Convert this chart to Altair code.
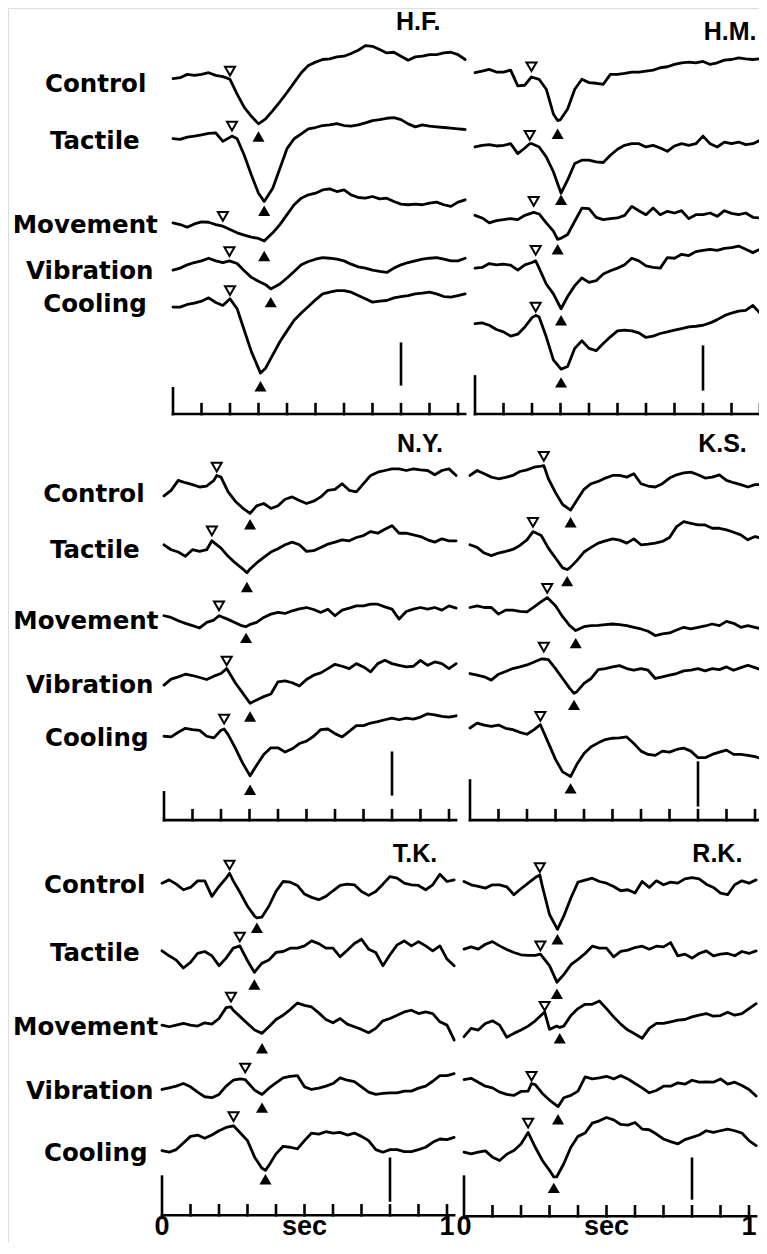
import altair as alt
import pandas as pd

# ---------------- data (amplitudes; 1 unit = 1/3 px) ----------------
T = [round(i * 0.025, 3) for i in range(42)]  # sample times (s)
TRACES = ["Control", "Tactile", "Movement", "Vibration", "Cooling"]

HF_control = [2,5,15,12,15,20,12,8,-5,-45,-85,-112,-135,-120,-95,-68,-40,-10,20,42,52,60,62,68,70,78,88,102,100,90,80,82,70,58,68,70,75,75,80,82,75,60]
HF_tactile = [0,-2,5,8,12,16,18,-8,5,0,-50,-110,-165,-185,-150,-90,-30,0,15,30,34,40,42,46,40,38,42,48,55,58,62,64,58,45,36,42,38,36,34,32,30,28]
HF_movement = [0,-5,-13,-3,3,2,-5,-12,-20,-30,-37,-43,-47,-53,-30,-5,25,55,75,85,90,100,103,95,100,85,77,75,80,73,75,65,57,55,57,55,60,63,55,50,63,70]
HF_vibration = [-3,3,13,20,25,33,25,20,25,17,-5,-25,-37,-47,-57,-45,-27,-7,13,23,30,35,33,30,25,15,7,3,-3,-7,-10,3,13,20,25,30,33,35,30,25,25,33]
HF_cooling = [0,0,8,12,18,28,14,5,25,-5,-70,-135,-195,-185,-145,-105,-72,-40,-18,2,22,40,45,50,50,45,35,25,15,18,20,28,32,35,40,42,45,40,32,30,35,40]

HM_control = [0,5,10,2,2,8,-40,-38,-18,-20,-50,-125,-142,-110,-50,-20,-30,-32,-35,-5,-5,-2,2,2,5,8,15,18,25,30,32,30,34,25,30,38,40,45,42,40,42,35]
HM_tactile = [-5,0,2,-2,0,5,-25,-8,5,-5,-35,-80,-140,-105,-55,-45,-45,-50,-52,-30,-12,0,5,5,-5,0,-8,-18,-2,5,0,5,28,5,-5,10,5,10,2,5,15,25]
HM_movement = [3,-5,-20,-13,-10,-7,-10,3,10,7,-20,-45,-67,-55,-15,25,23,-3,-10,-7,-5,3,30,17,5,25,5,15,10,17,-7,5,5,10,0,17,9,5,10,-3,-5,7]
HM_vibration = [-2,0,12,8,10,7,-8,8,15,-2,-50,-80,-120,-88,-55,-32,-45,-40,-20,-10,-2,8,28,20,5,0,-2,30,28,40,36,48,52,55,52,58,60,65,55,45,55,65]
HM_cooling = [0,2,-5,-18,-25,-38,-32,-10,18,20,-40,-110,-138,-130,-75,-52,-75,-82,-60,-40,-22,-20,-22,-28,-42,-38,-30,-25,-20,-15,-10,-8,-5,2,12,24,32,38,40,55,32,18]

NY_control = [-2,15,45,38,32,25,28,45,55,10,-18,-38,-55,-32,-25,-40,-32,-12,-5,-16,-25,-18,-5,15,18,35,15,10,35,60,70,75,80,80,75,80,77,75,62,75,80,60]
NY_tactile = [0,-15,-22,-35,-15,-20,-15,8,-10,-35,-55,-72,-75,-55,-38,-22,-12,0,8,0,-20,-18,-8,2,8,15,12,22,28,40,35,47,58,35,35,30,25,15,8,18,12,12]
NY_movement = [0,-5,-15,-23,-30,-37,-20,-13,0,-11,-21,-31,-27,-20,-5,5,10,7,15,21,25,19,10,20,0,17,23,30,30,35,35,27,20,-10,13,20,25,20,25,17,30,23]
NY_vibration = [-15,3,10,18,14,8,2,12,20,32,-8,-38,-62,-60,-50,-42,-5,-2,-8,-18,2,15,22,35,48,42,35,50,40,25,50,60,50,45,40,42,60,45,55,50,35,50]
NY_cooling = [0,-2,12,24,20,18,0,-5,18,5,-35,-80,-115,-88,-55,-35,-35,-48,-38,-22,-15,0,20,22,8,-2,15,32,32,40,44,50,55,50,55,52,58,68,65,60,58,62]

KS_control = [0,15,5,-5,-10,-6,0,12,17,25,28,-10,-52,-88,-105,-75,-42,-25,-18,-8,0,0,-5,5,-25,-32,-35,-25,-8,2,8,10,2,-8,-5,2,-15,-22,-28,-35,-28,-28]
KS_tactile = [0,-8,-25,-33,-25,-20,-14,-2,15,40,28,-10,-40,-70,-70,-48,-22,-8,5,12,18,14,5,18,0,2,5,10,22,55,70,65,60,60,50,50,45,38,30,15,25,20]
KS_movement = [0,5,0,0,-20,-8,-8,-12,-13,2,18,28,5,-28,-55,-68,-58,-55,-54,-52,-50,-52,-55,-60,-65,-72,-85,-80,-77,-68,-60,-65,-60,-56,-50,-55,-42,-48,-60,-55,-60,-65]
KS_vibration = [0,-5,-10,-20,-2,6,15,20,26,35,44,42,15,-15,-45,-55,-30,-15,12,15,20,24,15,10,15,10,-15,-10,-5,0,8,10,15,8,15,12,20,10,18,25,18,10]
KS_cooling = [0,15,9,5,9,-1,-5,-13,-19,-5,7,-45,-95,-133,-145,-110,-77,-57,-45,-35,-31,-30,-27,-47,-70,-80,-83,-70,-73,-65,-61,-70,-90,-90,-80,-73,-67,-80,-80,-83,-87,-93]

TK_control = [0,10,-3,-20,-13,7,7,-40,-10,15,7,-30,-70,-100,-103,-70,-25,5,3,-7,-33,-43,-50,-40,-23,-7,-3,-5,-25,-37,-25,-3,20,15,0,-5,-7,-20,-5,27,5,10]
TK_tactile = [0,-15,-28,-52,-35,-8,-2,-15,-45,-22,8,12,-30,-65,-38,-28,-5,-2,8,8,15,30,22,8,8,-18,2,22,35,5,-5,-45,-12,18,30,15,28,15,0,15,-25,-45]
TK_movement = [0,-5,0,5,0,-3,7,3,20,53,45,25,5,-15,-23,-5,17,30,47,67,60,55,37,17,7,20,3,-5,-13,-23,-10,13,20,30,40,45,35,40,35,10,0,-45]
TK_vibration = [0,5,10,18,8,-8,-22,-25,-15,10,28,32,22,-2,-15,4,20,35,40,42,8,0,4,10,18,35,28,24,8,-8,-15,-12,-10,-10,-5,-5,4,10,25,42,42,48]
TK_cooling = [0,-5,3,23,43,47,37,47,60,70,75,53,30,-20,-53,-45,-10,13,10,5,30,53,50,57,53,55,47,53,43,30,3,-5,3,3,-3,-3,3,10,25,35,33,40]

RK_control = [0,-10,-15,-20,-10,-10,-16,-40,-22,-5,12,-15,-100,-145,-105,-50,-2,4,10,0,-5,-15,-28,-25,-35,0,-18,2,-10,-2,-5,8,12,8,-8,-18,-35,-40,-10,2,-5,5]
RK_tactile = [0,7,0,15,23,10,-1,-10,-17,-19,-19,-20,-50,-90,-77,-47,-31,-13,9,3,3,-23,-7,-3,5,9,0,9,7,20,-20,-15,-27,-13,-5,-20,-15,-13,-20,-7,-13,-5]
RK_movement = [-20,5,0,20,28,15,-22,-10,0,12,28,48,2,12,12,44,65,78,78,88,65,40,18,0,-12,-25,5,20,20,25,30,32,40,45,50,42,44,54,45,50,65,80]
RK_vibration = [0,4,-8,-20,-25,-38,-45,-48,-36,-35,-15,-42,-62,-82,-55,-48,-35,8,2,5,10,2,12,2,-12,-25,-40,-33,-20,-20,-10,-14,-2,-8,-7,-8,2,-14,-8,-18,-30,-50]
RK_cooling = [0,-5,0,4,-15,-25,-6,5,25,58,15,-25,-55,-75,-35,15,48,58,88,95,105,98,84,82,90,70,68,55,40,32,25,38,45,52,65,60,65,70,65,58,35,20]

# peak (at open triangle) and trough (at filled triangle) of each trace
HF_peak = [0, 8, -10, 25, 25];    HF_trough = [-135, -190, -55, -60, -200]
HM_peak = [-13, 5, 12, 20, 25];   HM_trough = [-145, -145, -70, -125, -138]
NY_peak = [60, 12, 0, 35, 22];    NY_trough = [-55, -85, -33, -70, -120]
KS_peak = [30, 40, 30, 44, 10];   KS_trough = [-105, -75, -70, -60, -147]
TK_peak = [30, 15, 55, 30, 75];   TK_trough = [-105, -65, -25, -15, -60]
RK_peak = [20, -15, 55, -12, 60]; RK_trough = [-145, -100, 8, -82, -75]

# open (onset) triangle: time and amplitude
HF_open_t = [0.20, 0.207, 0.175, 0.198, 0.20];  HF_open_a = [25, 38, 20, 53, 50]
HM_open_t = [0.198, 0.192, 0.206, 0.213, 0.213]; HM_open_a = [18, 30, 45, 52, 50]
NY_open_t = [0.185, 0.168, 0.193, 0.22, 0.211];  NY_open_a = [85, 42, 30, 58, 52]
KS_open_t = [0.259, 0.221, 0.271, 0.259, 0.247]; KS_open_a = [58, 68, 58, 80, 35]
TK_open_t = [0.237, 0.273, 0.242, 0.292, 0.251]; TK_open_a = [55, 42, 85, 65, 103]
RK_open_t = [0.266, 0.268, 0.283, 0.237, 0.225]; RK_open_a = [42, 10, 72, 10, 88]
# filled (peak) triangle: time and amplitude
HF_fill_t = [0.30, 0.32, 0.32, 0.343, 0.307];    HF_fill_a = [-173, -218, -100, -100, -240]
HM_fill_t = [0.29, 0.302, 0.29, 0.302, 0.302];   HM_fill_a = [-185, -165, -100, -160, -178]
NY_fill_t = [0.302, 0.291, 0.288, 0.302, 0.302]; NY_fill_a = [-88, -128, -67, -110, -162]
KS_fill_t = [0.353, 0.341, 0.371, 0.365, 0.353]; KS_fill_a = [-142, -110, -108, -95, -183]
TK_fill_t = [0.333, 0.324, 0.351, 0.351, 0.363]; TK_fill_a = [-135, -102, -70, -55, -87]
RK_fill_t = [0.328, 0.326, 0.336, 0.33, 0.315];  RK_fill_a = [-175, -135, -25, -120, -108]

SUBJECTS = ["H.F.", "H.M.", "N.Y.", "K.S.", "T.K.", "R.K."]
TICKS = [0.1, 0.2, 0.3, 0.4, 0.5, 0.6, 0.7, 0.8, 0.9, 1.0]
SCALE_BAR_T = 0.8

# ---------------- layout (reference page pixels) ----------------
W = 751            # plot width in px (page body width)
H = 1234           # plot height in px (keeps the page from overflowing)
REF_H = 1246       # reference height that is mapped onto H
PX_PER_SEC = 285.0
def gx(px):
    return (px - 8) / PX_PER_SEC
def gy(px):
    return -(px - 8) * 3.0

panels = [
    dict(name="H.F.", x0=173, base=[80, 140, 225, 271.67, 310],
         series=[HF_control, HF_tactile, HF_movement, HF_vibration, HF_cooling],
         peak=HF_peak, trough=HF_trough, ot=HF_open_t, oa=HF_open_a, ft=HF_fill_t, fa=HF_fill_a,
         axis_y=418, axis_top=392, bar=(347, 388), title_t=0.86, title_y=30),
    dict(name="H.M.", x0=475, base=[73.33, 146.67, 218.33, 270, 326.67],
         series=[HM_control, HM_tactile, HM_movement, HM_vibration, HM_cooling],
         peak=HM_peak, trough=HM_trough, ot=HM_open_t, oa=HM_open_a, ft=HM_fill_t, fa=HM_fill_a,
         axis_y=418, axis_top=380, bar=(350, 393), title_t=0.895, title_y=40),
    dict(name="N.Y.", x0=164, base=[500, 550, 621.67, 686.67, 743.33],
         series=[NY_control, NY_tactile, NY_movement, NY_vibration, NY_cooling],
         peak=NY_peak, trough=NY_trough, ot=NY_open_t, oa=NY_open_a, ft=NY_fill_t, fa=NY_fill_a,
         axis_y=828, axis_top=800, bar=(760, 802), title_t=0.898, title_y=456.7),
    dict(name="K.S.", x0=470, base=[480, 550, 613.33, 680, 735],
         series=[KS_control, KS_tactile, KS_movement, KS_vibration, KS_cooling],
         peak=KS_peak, trough=KS_trough, ot=KS_open_t, oa=KS_open_a, ft=KS_fill_t, fa=KS_fill_a,
         axis_y=828, axis_top=788, bar=(770, 813), title_t=0.886, title_y=456.7),
    dict(name="T.K.", x0=162, base=[891.67, 960, 1035, 1100, 1161.67],
         series=[TK_control, TK_tactile, TK_movement, TK_vibration, TK_cooling],
         peak=TK_peak, trough=TK_trough, ot=TK_open_t, oa=TK_open_a, ft=TK_fill_t, fa=TK_fill_a,
         axis_y=1227, axis_top=1188, bar=(1170, 1212), title_t=0.888, title_y=870),
    dict(name="R.K.", x0=464, base=[890, 958.33, 1040, 1090, 1163.33],
         series=[RK_control, RK_tactile, RK_movement, RK_vibration, RK_cooling],
         peak=RK_peak, trough=RK_trough, ot=RK_open_t, oa=RK_open_a, ft=RK_fill_t, fa=RK_fill_a,
         axis_y=1228, axis_top=1188, bar=(1170, 1210), title_t=0.889, title_y=870),
]

label_rows = [
    dict(x=[45, 50, 12.7, 26, 43.3], y=[92.7, 150, 235, 282, 315]),
    dict(x=[43.3, 50, 13.3, 26, 45], y=[506.7, 563.3, 635, 700, 753]),
    dict(x=[44, 50, 13, 26, 44], y=[902, 970, 1045, 1110, 1172]),
]

# ---------------- build tables ----------------
line_rows, open_rows, fill_rows, rule_rows, title_rows = [], [], [], [], []
for p in panels:
    X0 = gx(p["x0"])
    for i, vals in enumerate(p["series"]):
        feats = [(p["ot"][i], p["peak"][i]), (p["ft"][i], p["trough"][i])]
        pts = [(t, v) for t, v in zip(T, vals)
               if all(abs(t - ft) > 0.008 for ft, _ in feats)]
        pts = sorted(pts + feats)
        B = gy(p["base"][i])
        for k, (t, v) in enumerate(pts):
            line_rows.append(dict(key=f'{p["name"]}-{i}', order=k, X=X0 + t, Y=B + v))
        open_rows.append(dict(X=X0 + p["ot"][i], Y=B + p["oa"][i]))
        fill_rows.append(dict(X=X0 + p["ft"][i], Y=B + p["fa"][i]))
    ay = gy(p["axis_y"])
    rule_rows.append(dict(X=X0, X2=X0 + 1.025, Y=ay, Y2=ay))
    rule_rows.append(dict(X=X0, X2=X0, Y=ay, Y2=gy(p["axis_top"])))
    for tk in TICKS:
        rule_rows.append(dict(X=X0 + tk, X2=X0 + tk, Y=ay, Y2=gy(p["axis_y"] - 10)))
    rule_rows.append(dict(X=X0 + SCALE_BAR_T, X2=X0 + SCALE_BAR_T,
                          Y=gy(p["bar"][1]), Y2=gy(p["bar"][0])))
    title_rows.append(dict(X=X0 + p["title_t"], Y=gy(p["title_y"]), text=p["name"]))

label_data = []
for r in label_rows:
    for name, lx, ly in zip(TRACES, r["x"], r["y"]):
        label_data.append(dict(X=gx(lx), Y=gy(ly), text=name))

bottom_data = []
for p in panels[4:]:
    X0 = gx(p["x0"])
    for t, txt in [(0, "0"), (0.5, "sec"), (1.0, "1")]:
        bottom_data.append(dict(X=X0 + t, Y=gy(1247), text=txt))

xs = alt.Scale(domain=[0, W / PX_PER_SEC], nice=False, zero=False)
ys = alt.Scale(domain=[-REF_H * 3.0, 0], nice=False, zero=False)
X_ = alt.X("X:Q", scale=xs, axis=None)
Y_ = alt.Y("Y:Q", scale=ys, axis=None)

lines = alt.Chart(pd.DataFrame(line_rows)).mark_line(
    color="black", strokeWidth=2.8, strokeJoin="round", strokeCap="round", clip=True
).encode(x=X_, y=Y_, detail="key:N", order="order:Q")

rules = alt.Chart(pd.DataFrame(rule_rows)).mark_rule(
    color="black", strokeWidth=2.6, strokeCap="square", clip=True
).encode(x=X_, y=Y_, x2="X2:Q", y2="Y2:Q")

opens = alt.Chart(pd.DataFrame(open_rows)).mark_point(
    shape="triangle-down", size=100, filled=True, fill="white", stroke="black",
    strokeWidth=2, opacity=1
).encode(x=X_, y=Y_)

fills = alt.Chart(pd.DataFrame(fill_rows)).mark_point(
    shape="triangle-up", size=145, filled=True, color="black", opacity=1
).encode(x=X_, y=Y_)

labels = alt.Chart(pd.DataFrame(label_data)).mark_text(
    font="DejaVu Sans", fontWeight="bold", fontSize=24.5, align="left",
    baseline="alphabetic", color="black"
).encode(x=X_, y=Y_, text="text:N")

titles = alt.Chart(pd.DataFrame(title_rows)).mark_text(
    font="Liberation Sans", fontWeight="bold", fontSize=25, align="center",
    baseline="alphabetic", color="black"
).encode(x=X_, y=Y_, text="text:N")

bottoms = alt.Chart(pd.DataFrame(bottom_data)).mark_text(
    font="Liberation Sans", fontWeight="bold", fontSize=27, align="center",
    baseline="alphabetic", color="black"
).encode(x=X_, y=Y_, text="text:N")

chart = alt.layer(lines, rules, opens, fills, labels, titles, bottoms).properties(
    width=W, height=H, padding=0,
    autosize=alt.AutoSizeParams(type="none"),
).configure_view(strokeWidth=0).configure(background="white")

chart.save("out.html", embed_options={"renderer": "svg", "actions": False})
